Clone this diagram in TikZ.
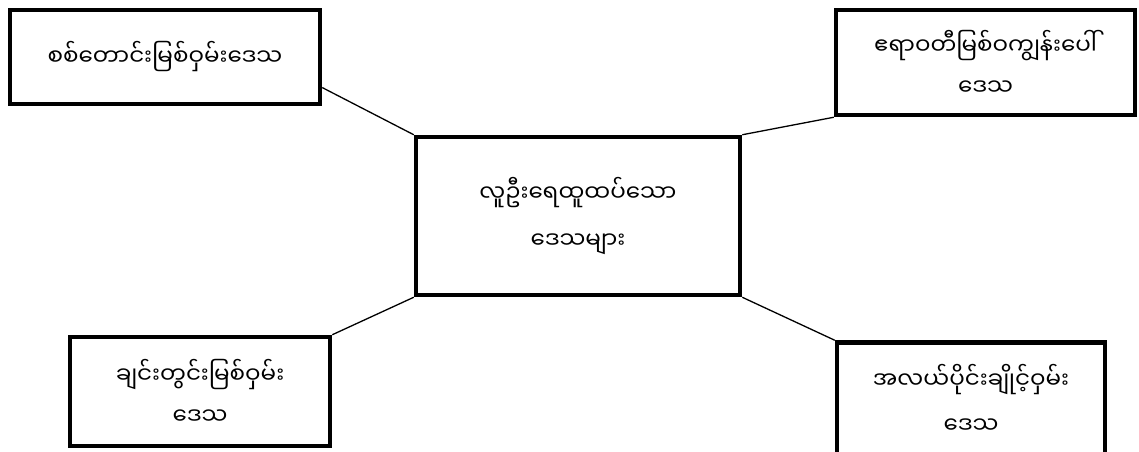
\documentclass[tikz,border=0pt]{standalone}
\usepackage{fontspec}
\newfontfamily\mya[Script=Myanmar]{Noto Sans Myanmar UI}
\begin{document}
\begin{tikzpicture}[x=1pt,y=-1pt,
  box/.style={draw=black,line width=4.5pt,rectangle,inner sep=0pt,align=center,
    font={\mya\fontsize{23}{41}\selectfont}},
  link/.style={draw=black,line width=1.3pt}]
\useasboundingbox[fill=white] (0,0) rectangle (1139,451);
\node[box,minimum width=310,minimum height=94] (b1) at (165,57) {စစ်တောင်းမြစ်ဝှမ်းဒေသ};
\node[box,minimum width=299,minimum height=105] (b2) at (985.5,62.5) {ဧရာဝတီမြစ်ဝကျွန်းပေါ်\\ဒေသ};
\node[box,minimum width=324,minimum height=158,font={\mya\fontsize{23}{47}\selectfont}] (c) at (578,216) {လူဦးရေထူထပ်သော\\ဒေသများ};
\node[box,minimum width=260,minimum height=109] (b4) at (200,391.5) {ချင်းတွင်းမြစ်ဝှမ်း\\ဒေသ};
\node[box,minimum width=268,minimum height=113,font={\mya\fontsize{23}{45}\selectfont}] (b5) at (971,399) {အလယ်ပိုင်းချိုင့်ဝှမ်း\\ဒေသ};
\draw[link] (c.north west) -- (b1.-11);
\draw[link] (c.north east) -- (b2.south west);
\draw[link] (c.south west) -- (b4.north east);
\draw[link] (c.south east) -- (b5.north west);
\end{tikzpicture}
\end{document}
